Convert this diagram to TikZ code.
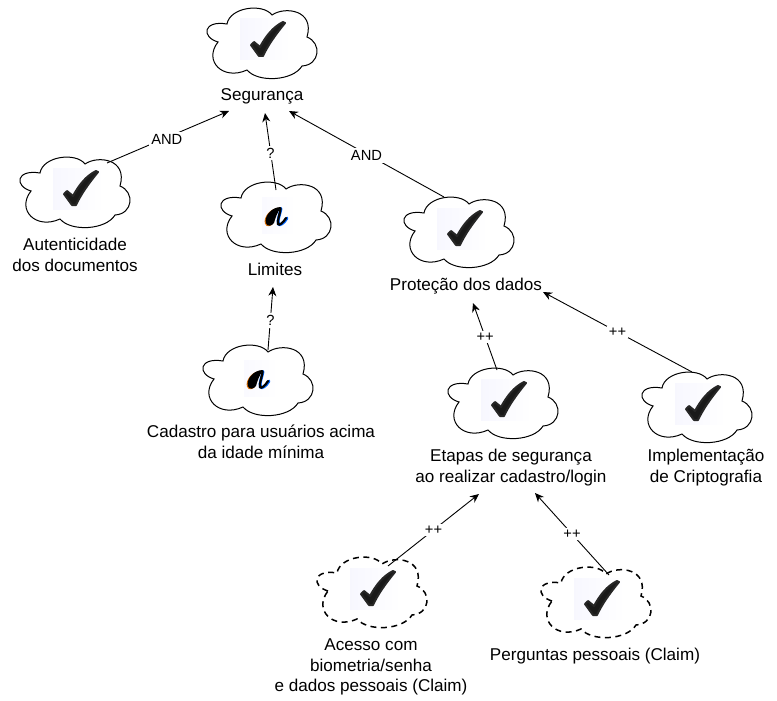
\documentclass[tikz,border=0pt]{standalone}
\usepackage{fontspec}
\setmainfont{Liberation Sans}
\usetikzlibrary{arrows.meta}
\tikzset{
  x=1pt,y=-1pt,
  anchorbox/.style={minimum width=100pt,minimum height=60pt,inner sep=0pt},
  cloudline/.style={draw=black,line width=1pt,fill=white},
  softgoal/.style={cloudline},
  claimgoal/.style={cloudline,line width=1.5pt,dash pattern=on 6pt off 4.5pt},
  caption/.style={align=center,font=\fontsize{17.1}{20.6}\selectfont,inner sep=0pt},
  link/.style={draw=black,line width=.9pt,-{Stealth[length=9pt,width=8pt]}},
  linklabel/.style={fill=white,inner sep=2pt,font=\fontsize{14.7}{15}\selectfont,text=black},
}
\newcommand{\cloudshape}[2]{% position, style
  \draw[#2,shift={(#1)}] (-45,-1) .. controls (-62,-6) and (-60,-23) .. (-36,-19)
    .. controls (-33,-36) and (0,-40) .. (9,-28)
    .. controls (22,-37) and (52,-33) .. (44,-6)
    .. controls (59,0) and (57,22) .. (39,23)
    .. controls (30,38) and (-5,40) .. (-16,27)
    .. controls (-40,38) and (-60,18) .. (-45,-1) -- cycle;}
\newcommand{\checkicon}[1]{%
  \begin{scope}[shift={(#1)}]
    \shade[left color=black!7!blue!3!white,right color=white] (-23,-24) rectangle (28,17);
    \fill[black!90,line join=round,draw=black!85,line width=2pt]
      (-12,2) -- (-9,-1) -- (-3,4) .. controls (3,-7) and (10,-16) .. (20,-21)
      -- (22,-20) .. controls (13,-9) and (5,2) .. (0,13) -- (-4,13) -- cycle;
  \end{scope}}
\newcommand{\eicon}[1]{%
  \begin{scope}[shift={(#1)}]
    \shade[left color=black!5!blue!2!white,right color=white] (-15,-20) rectangle (19,16);
    \begin{scope}[shift={(-1,.6)}]
    \fill[orange!85!black] (4,-10) .. controls (-6,-10) and (-13,0) .. (-11,6) .. controls (-10,10) and (-5,9) .. (-3,6) .. controls (-2,2) and (0,-4) .. (4,-10) -- cycle;
    \end{scope}
    \draw[blue!60!cyan,line width=3pt,line cap=round] (4,-8.5) .. controls (3,-3) and (0,4) .. (1.5,7) .. controls (3,9) and (7,6) .. (10,1);
    \fill[black] (4,-10) .. controls (-6,-10) and (-13,0) .. (-11,6) .. controls (-10,10) and (-5,9) .. (-3,6) .. controls (-2,2) and (0,-4) .. (4,-10) -- cycle;
    \draw[black,line width=2.2pt,line cap=round] (3.6,-8.5) .. controls (3,-3) and (0,4) .. (1,7) .. controls (2,9) and (6,6) .. (9,1);
  \end{scope}}
\begin{document}
\begin{tikzpicture}
\useasboundingbox (0,0) rectangle (777,701);

% clouds
\cloudshape{263,43}{softgoal}\checkicon{263,43}
\cloudshape{76,192}{softgoal}\checkicon{76,192}
\cloudshape{277,217}{softgoal}\eicon{277,217}
\cloudshape{460,232}{softgoal}\checkicon{460,232}
\cloudshape{259,380}{softgoal}\eicon{259,380}
\cloudshape{504,403}{softgoal}\checkicon{504,403}
\cloudshape{698,407}{softgoal}\checkicon{698,407}
\cloudshape{373,592}{claimgoal}\checkicon{373,592}
\cloudshape{597,602}{claimgoal}\checkicon{597,602}

\node[anchorbox] (cseg) at (263,43) {};
\node[anchorbox] (caut) at (76,192) {};
\node[anchorbox] (clim) at (277,217) {};
\node[anchorbox] (cpro) at (460,232) {};
\node[anchorbox] (ccad) at (259,380) {};
\node[anchorbox] (ceta) at (504,403) {};
\node[anchorbox] (cimp) at (698,407) {};
\node[anchorbox] (cace) at (373,592) {};
\node[anchorbox] (cper) at (597,602) {};

% captions
\node[caption] (tseg) at (262,96.5) {Segurança};
\node[caption] (taut) at (75,255) {Autenticidade\\dos documentos};
\node[caption] (tlim) at (275,269.5) {Limites};
\node[caption] (tpro) at (466,286) {Proteção dos dados};
\node[caption] (tcad) at (261,442) {Cadastro para usuários acima\\da idade mínima};
\node[caption] (teta) at (511,467.5) {Etapas de segurança\\ao realizar cadastro/login};
\node[caption] (timp) at (706,467.5) {Implementação\\de Criptografia};
\node[caption] (tace) at (371,667) {Acesso com\\biometria/senha\\e dados pessoais (Claim)};
\node[caption] (tper) at (595,656) {Perguntas pessoais (Claim)};

% connectors
\draw[link] ([shift={(31,-29)}]caut.center) -- node[linklabel,pos=.49,yshift=-1.5pt] {AND} ([shift={(-33,14.5)}]tseg.center);
\draw[link] ([shift={(-1,-27)}]clim.center) -- node[linklabel,pos=.5,yshift=-1.5pt] {?} ([shift={(3,16.5)}]tseg.center);
\draw[link] ([shift={(-16,-35)}]cpro.center) -- node[linklabel,pos=.5,yshift=-1.5pt] {AND} ([shift={(27,14.5)}]tseg.center);
\draw[link] ([shift={(9,-30)}]ccad.center) -- node[linklabel,pos=.49,yshift=-1.5pt] {?} ([shift={(-2,17.5)}]tlim.center);
\draw[link] ([shift={(-7,-33)}]ceta.center) -- node[linklabel,pos=.49] {++} ([shift={(7,17)}]tpro.center);
\draw[link] ([shift={(-6,-35)}]cimp.center) -- node[linklabel,pos=.5] {++} ([shift={(77,6)}]tpro.center);
\draw[link] ([shift={(15,-26)}]cace.center) -- node[linklabel,pos=.5] {++} ([shift={(-32,26.5)}]teta.center);
\draw[link] ([shift={(12,-27)}]cper.center) -- node[linklabel,pos=.5] {++} ([shift={(24,25.5)}]teta.center);
\end{tikzpicture}
\end{document}
